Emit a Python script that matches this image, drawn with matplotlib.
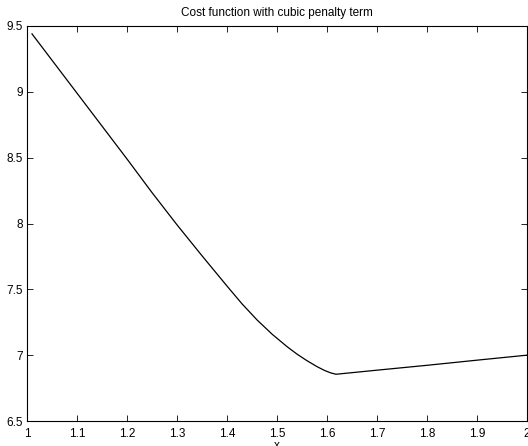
import matplotlib
matplotlib.use("Agg")
import matplotlib.pyplot as plt

# values
x_vals = [1.01, 1.05, 1.10, 1.15, 1.20, 1.25, 1.30, 1.35, 1.40, 1.43, 1.46,
          1.49, 1.52, 1.54, 1.56, 1.58, 1.595, 1.607, 1.618, 1.70, 1.80, 1.90, 2.00]
cost = [9.44, 9.24, 8.99, 8.74, 8.49, 8.235, 7.99, 7.755, 7.525, 7.39, 7.268,
        7.16, 7.065, 7.008, 6.958, 6.913, 6.884, 6.866, 6.855, 6.886, 6.923, 6.962, 7.00]

xticks = [1, 1.1, 1.2, 1.3, 1.4, 1.5, 1.6, 1.7, 1.8, 1.9, 2]
yticks = [6.5, 7, 7.5, 8, 8.5, 9, 9.5]

plt.rcParams['font.family'] = ['Liberation Sans', 'DejaVu Sans']

fig = plt.figure(figsize=(5.28, 4.46), dpi=100)
ax = fig.add_axes([27 / 528, 25 / 446, 500 / 528, 395 / 446])
ax.plot(x_vals, cost, color='black', linewidth=0.9)

ax.set_xlim(1, 2)
ax.set_ylim(6.5, 9.5)
ax.set_xticks(xticks)
ax.set_xticklabels(['1', '1.1', '1.2', '1.3', '1.4', '1.5', '1.6', '1.7', '1.8', '1.9', '2'])
ax.set_yticks(yticks)
ax.set_yticklabels(['6.5', '7', '7.5', '8', '8.5', '9', '9.5'])
ax.tick_params(direction='in', length=4, width=0.6, labelsize=8.5,
               top=True, right=True)
ax.tick_params(axis='x', pad=5)
ax.tick_params(axis='y', pad=3)
for s in ax.spines.values():
    s.set_linewidth(0.8)

ax.set_title('Cost function with cubic penalty term', fontsize=8.5, pad=7)
ax.set_xlabel('x', fontsize=8.5, labelpad=0)

fig.savefig('out.png', dpi=100)
